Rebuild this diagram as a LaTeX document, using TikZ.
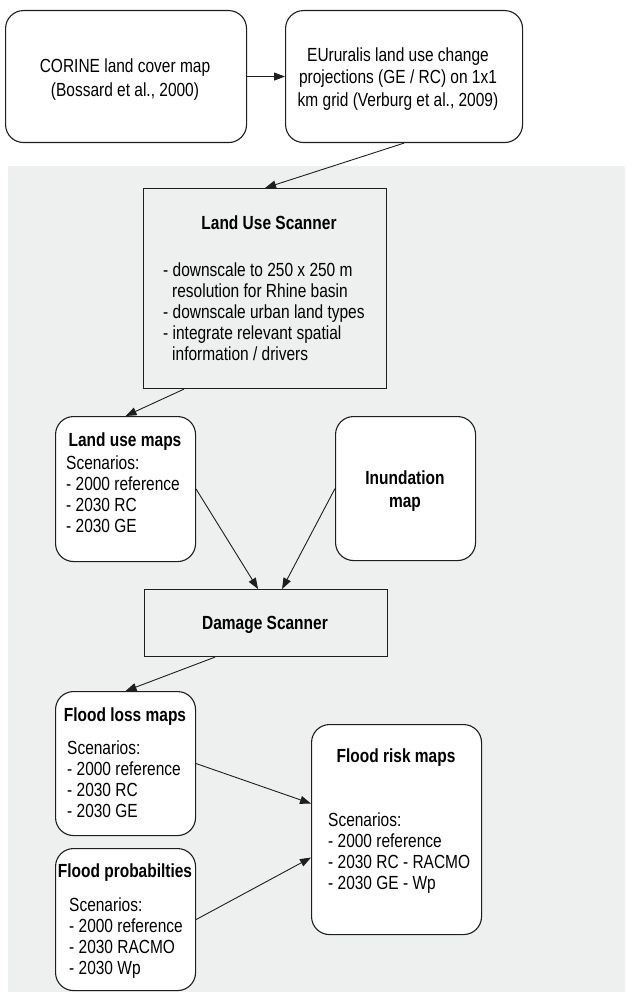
\documentclass[tikz,border=0pt]{standalone}
\usepackage{fontspec}
\setmainfont{Liberation Sans}[FakeStretch=0.815]
\usetikzlibrary{arrows.meta}
\definecolor{bggray}{RGB}{238,240,239}
\definecolor{edge}{RGB}{30,30,30}
\begin{document}
\begin{tikzpicture}[x=1pt,y=-1pt,
  rbox/.style={draw=edge, line width=1.1pt, fill=white, rounded corners=18pt, inner sep=0, anchor=north west},
  sbox/.style={draw=edge, line width=1.1pt, fill=bggray, inner sep=0, anchor=north west},
  txt/.style={font=\fontsize{19}{21}\selectfont, inner sep=0, align=left, anchor=north west},
  ctxt/.style={font=\fontsize{19}{22.5}\selectfont, inner sep=0, align=center},
  ttl/.style={font=\fontsize{19}{23}\selectfont\bfseries, inner sep=0, align=center},
  arr/.style={-{Triangle[length=11pt,width=8pt]}, line width=0.9pt, draw=edge}]
\useasboundingbox (0,0) rectangle (625,992);
\fill[bggray] (8,166) rectangle (625,992);

% boxes
\node[rbox, minimum width=241pt, minimum height=132pt] (corine) at (5,10) {};
\node[rbox, minimum width=237pt, minimum height=132pt] (eur) at (285,10) {};
\node[sbox, minimum width=243pt, minimum height=200pt] (lus) at (143,188) {};
\node[rbox, minimum width=140pt, minimum height=145pt] (lum) at (55,416) {};
\node[rbox, minimum width=140pt, minimum height=144pt] (inu) at (335,416) {};
\node[sbox, minimum width=243pt, minimum height=67pt] (dmg) at (144,589) {};
\node[rbox, minimum width=140pt, minimum height=144pt] (flm) at (55,691) {};
\node[rbox, minimum width=140pt, minimum height=142pt] (fpr) at (55,848) {};
\node[rbox, minimum width=170pt, minimum height=210pt] (frm) at (311,724) {};

% texts
\node[ctxt, font=\fontsize{19}{24}\selectfont] (corineT) at (125,80) {CORINE land cover map\\(Bossard et al., 2000)};
\node[ctxt] (eurT) at (398,79) {EUruralis land use change\\projections (GE / RC) on 1x1\\km grid (Verburg et al., 2009)};
\node[ttl] (lusT) at (269,223) {Land Use Scanner};
\node[txt] (lusL) at (163,263) {- downscale to 250 x 250 m\\\hspace*{9pt}resolution for Rhine basin\\- downscale urban land types\\- integrate relevant spatial\\\hspace*{9pt}information / drivers};
\node[ttl] (lumT) at (125,442) {Land use maps};
\node[txt] (lumL) at (66,456) {Scenarios:\\- 2000 reference\\- 2030 RC\\- 2030 GE};
\node[ttl] (inuT) at (405,491) {Inundation\\map};
\node[ttl] (dmgT) at (265,625) {Damage Scanner};
\node[ttl] (flmT) at (125,717) {Flood loss maps};
\node[txt] (flmL) at (67,741) {Scenarios:\\- 2000 reference\\- 2030 RC\\- 2030 GE};
\node[ttl] (fprT) at (125,873) {Flood probabilties};
\node[txt] (fprL) at (69,898) {Scenarios:\\- 2000 reference\\- 2030 RACMO\\- 2030 Wp};
\node[ttl] (frmT) at (396,758) {Flood risk maps};
\node[txt] (frmL) at (328,813) {Scenarios:\\- 2000 reference\\- 2030 RC - RACMO\\- 2030 GE - Wp};

% connectors
\draw[arr] (corine.east) -- (eur.west);
\draw[arr] (eur.south) -- (lus.north);
\draw[arr] ([xshift=41pt]lus.south west) -- (lum.north);
\draw[arr] (lum.east) -- ([xshift=-8pt]dmg.north);
\draw[arr] (inu.west) -- ([xshift=16pt]dmg.north);
\draw[arr] ([xshift=-51pt]dmg.south) -- (flm.north);
\draw[arr] (flm.east) -- ([yshift=26pt]frm.west);
\draw[arr] (fpr.east) -- ([yshift=-28pt]frm.west);
\end{tikzpicture}
\end{document}
